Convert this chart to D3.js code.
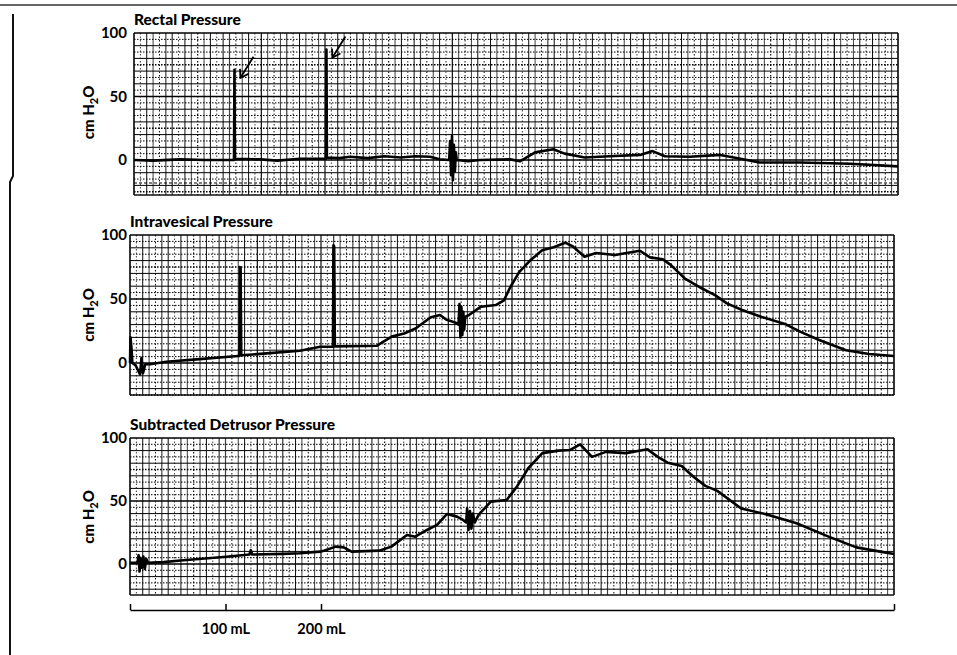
<!DOCTYPE html>
<html>
<head>
<meta charset="utf-8">
<script src="https://cdn.jsdelivr.net/npm/d3@7"></script>
<style>
  body { margin: 0; background: #fff; }
  svg { display: block; font-family: Lato, "Open Sans", sans-serif; }
  .title { font-weight: 900; font-size: 15.5px; }
  .ylab { font-weight: 900; font-size: 15px; }
  .tick-label { font-weight: 700; font-size: 15px; }
  .vol-axis text { font-family: Lato, sans-serif; font-weight: 700; font-size: 14.5px; }
</style>
</head>
<body>
<div id="chart"></div>
<script>
/* jshint esversion: 6 */

///////////////////////////////////////////////////////////////////////////////
//// Data (volume infused in mL, pressure in cm H2O) //////////////////////////
///////////////////////////////////////////////////////////////////////////////
const rectalVol = [0, 20, 48, 75, 104.7, 105.2, 105.7, 132, 150, 174, 201, 201.5, 202,
  215, 226, 245, 262, 279, 295, 310, 320, 330, 331, 332, 333, 334, 335, 336, 337, 338, 350, 362, 394, 404, 409, 420,
  439, 451, 472, 498, 530, 543, 556, 582, 614, 635, 655, 697, 750, 800];
const rectalP = [0, -0.5, 0.5, 0, 0, 71, 1, 0.5, -0.5, 1, 1, 87, 2,
  1.5, 2.5, 1.5, 3, 2, 3, 2.5, 0.5, 0, 15, -12, 19, -16, 12, -9, 6, 0, -1, 0, 0.5, -1, 1, 6,
  8.5, 5, 2, 3, 4, 7, 3, 2.5, 4, 1, -2, -2, -3, -5];

const vesicalVol = [0, 0.5, 1.5, 2.5, 6, 10.5, 12, 13.6, 16, 21, 38, 73, 113, 114.5, 115, 115.8, 116.5, 143,
  178, 199, 212.5, 213, 213.8, 214.5, 258.6, 274, 287, 299, 315, 324.6, 331, 341, 344, 345, 346, 347, 348,
  349, 350, 351, 355, 367.5, 383, 391.6, 398, 407.5, 419.6, 431.6, 443.6, 455.7, 463.8, 476, 488, 508,
  520, 534, 544.5, 558, 566.5, 581, 597, 612.6, 625, 641, 661.5, 685.8, 701.6, 721.7, 749.7, 773.8, 800];
const vesicalP = [0, 20, 12, 0, -2, -9, 4, -8, -1, -1, 1, 3, 5.5, 5.5, 75, 74, 6, 7.5,
  9.6, 12.7, 12.7, 92, 91, 13, 13.5, 20.6, 23, 27, 35.7, 37.5, 34, 31.5, 30, 46, 20, 44, 22,
  40, 26, 36, 37.5, 44, 45.3, 49, 59, 71, 80.5, 88, 90.4, 94, 91, 83, 86, 84.4,
  86, 87.7, 82.5, 81, 76.5, 66, 59, 53, 46.6, 41.4, 36, 30.5, 24.5, 18, 10, 7, 5.5];

const detrusorVol = [0, 8, 9, 10, 11, 12.5, 14, 15.5, 17, 19, 35, 55.7, 101, 125, 126.5, 128, 160, 178,
  199, 203, 215.5, 223.8, 232, 261, 273.7, 290, 298.7, 311, 321.5, 332, 342.4, 348.7, 352, 353, 354.5,
  356, 357.5, 359, 361, 365, 377.8, 394.4, 404.8, 417, 431.8, 448.5, 461, 471.4, 483.8, 498.4, 519.3,
  542, 552.6, 563, 577.6, 590, 602.5, 615, 640, 665, 698, 731.5, 760.6, 785.7, 800];
const detrusorP = [1, 1, 7, -6, 5, -3, 6, -4, 4, 1, 1.5, 3, 5.8, 7.5, 11, 7.5, 8, 8.5,
  9.8, 10.6, 13.8, 13.2, 9.8, 10.6, 13.8, 23, 21.7, 27, 31, 39.7, 37.6, 35, 33, 44, 27,
  42, 28, 40, 33, 39, 49.5, 50.8, 61, 76, 88, 90, 90.5, 95, 85, 89, 88,
  91, 85, 80.4, 77.8, 69.3, 62, 58, 44, 39.7, 32.3, 21.7, 13.2, 9.8, 8];

const panelTitles = ["Rectal Pressure", "Intravesical Pressure", "Subtracted Detrusor Pressure"];
const pressureTicks = [0, 50, 100];
const volumeTicks = [0, 100, 200, 800];
const volumeTickLabels = ["", "100 mL", "200 mL", ""];
const arrowSpikes = [[105.2, 71], [201.5, 87]]; // the two cough spikes marked on the rectal trace

///////////////////////////////////////////////////////////////////////////////
//// Layout ///////////////////////////////////////////////////////////////////
///////////////////////////////////////////////////////////////////////////////
const W = 957, H = 655;
const panels = [
  {title: panelTitles[0], vol: rectalVol, p: rectalP, left: 134, right: 898, top: 33, zero: 160, bottom: 195, strip: 183},
  {title: panelTitles[1], vol: vesicalVol, p: vesicalP, left: 130, right: 894, top: 235, zero: 363, bottom: 395},
  {title: panelTitles[2], vol: detrusorVol, p: detrusorP, left: 130, right: 894, top: 438, zero: 564, bottom: 595}
];

const svg = d3.select("#chart").append("svg")
  .attr("width", W)
  .attr("height", H);

// Page border (scanned page edges)
svg.append("line").attr("x1", 0).attr("y1", 5).attr("x2", W).attr("y2", 5)
  .style("stroke", "#333").style("stroke-width", 1.5);
svg.append("path")
  .attr("d", "M13,14 L13,176 L10,182 L10,655")
  .style("fill", "none").style("stroke", "#111").style("stroke-width", 2);

panels.forEach((pn, pi) => renderPanel(pn, pi));
renderVolumeAxis();

function renderPanel(pn, pi) {
  const x = d3.scaleLinear().domain([0, 800]).range([pn.left, pn.right]);
  const y = d3.scaleLinear().domain([0, 100]).range([pn.zero, pn.top]);
  const yMin = y.invert(pn.bottom);

  const g = svg.append("g").attr("class", "panel");

  /////////////////////////////////////////////////////////////////////////////
  // Chart paper grid
  const grid = g.append("g").attr("class", "grid");
  const hVals = d3.range(Math.ceil(yMin / 5) * 5, 101, 5);
  grid.selectAll(".h")
    .data(hVals)
    .enter().append("line")
      .attr("x1", pn.left).attr("x2", pn.right)
      .attr("y1", d => y(d)).attr("y2", d => y(d))
      .style("stroke", "#000")
      .style("stroke-width", d => d % 25 === 0 ? 1.3 : 1)
      .style("stroke-dasharray", d => d % 10 === 0 ? null : "1.5,1.5");

  const vVals = d3.range(0, 800.1, 100 / 15);
  grid.selectAll(".v")
    .data(vVals)
    .enter().append("line")
      .attr("x1", d => x(d)).attr("x2", d => x(d))
      .attr("y1", pn.top).attr("y2", pn.bottom)
      .style("stroke", "#000")
      .style("stroke-width", (d, i) => i % 5 === 0 ? 1.2 : 1)
      .style("stroke-dasharray", (d, i) => i % 3 === 1 ? "1.5,2" : null)
      .style("opacity", (d, i) => i % 2 ? 0.75 : 0.95);

  if (pn.strip) {
    grid.append("line")
      .attr("x1", pn.left).attr("x2", pn.right).attr("y1", pn.strip).attr("y2", pn.strip)
      .style("stroke", "#000").style("stroke-width", 1).style("stroke-dasharray", "3,2");
  }

  // frame edges
  grid.append("line")
    .attr("x1", pn.left).attr("x2", pn.left).attr("y1", pn.top).attr("y2", pn.bottom)
    .style("stroke", "#111").style("stroke-width", 1.2);
  grid.append("line")
    .attr("x1", pn.right).attr("x2", pn.right).attr("y1", pn.top).attr("y2", pn.bottom)
    .style("stroke", "#111").style("stroke-width", 1.2);
  grid.append("line")
    .attr("x1", pn.left).attr("x2", pn.right).attr("y1", pn.bottom).attr("y2", pn.bottom)
    .style("stroke", "#111").style("stroke-width", 1.4);

  /////////////////////////////////////////////////////////////////////////////
  // Title and y axis labels
  g.append("text")
    .attr("class", "title")
    .attr("x", pn.left)
    .attr("y", pn.top - 8)
    .text(pn.title);

  g.selectAll(".tick-label")
    .data(pressureTicks)
    .enter().append("text")
      .attr("class", "tick-label")
      .attr("x", 127)
      .attr("y", d => y(d))
      .attr("dy", "0.35em")
      .style("text-anchor", "end")
      .text(d => d);

  const lab = g.append("text")
    .attr("class", "ylab")
    .attr("transform", `translate(94, ${y(50) + 16}) rotate(-90)`)
    .style("text-anchor", "middle");
  lab.append("tspan").text("cm H");
  lab.append("tspan").attr("dy", 4).style("font-size", "11px").text("2");
  lab.append("tspan").attr("dy", -4).text("O");

  /////////////////////////////////////////////////////////////////////////////
  // Pressure trace
  const pts = pn.vol.map((v, i) => [v, pn.p[i]]);
  const line = d3.line().x(d => x(d[0])).y(d => y(d[1]));
  g.append("path")
    .datum(pts)
    .attr("d", line)
    .style("fill", "none")
    .style("stroke", "#000")
    .style("stroke-width", 2.6)
    .style("stroke-linejoin", "round");

  // arrows pointing at cough spikes
  if (pi === 0) {
    arrowSpikes.forEach(s => {
      const tx = x(s[0]) + 6, ty = y(s[1]) + 8;
      const fx = tx + 13, fy = ty - 21;
      g.append("line")
        .attr("x1", fx).attr("y1", fy).attr("x2", tx).attr("y2", ty)
        .style("stroke", "#000").style("stroke-width", 1.8);
      g.append("path")
        .attr("d", `M${tx - 0.5},${ty - 9} L${tx},${ty} L${tx + 8},${ty - 4}`)
        .style("fill", "none").style("stroke", "#000").style("stroke-width", 1.8);
    });
  }
}

function renderVolumeAxis() {
  const pn = panels[2];
  const x = d3.scaleLinear().domain([0, 800]).range([pn.left, pn.right]);
  const ax = svg.append("g")
    .attr("class", "vol-axis")
    .attr("transform", "translate(0, 610)")
    .call(d3.axisBottom(x)
      .tickValues(volumeTicks)
      .tickSizeInner(-6)
      .tickSizeOuter(0)
      .tickPadding(14)
      .tickFormat((d, i) => volumeTickLabels[i]));
  ax.select(".domain").style("stroke", "#000").style("stroke-width", 1.5);
  ax.selectAll(".tick line").style("stroke", "#000").style("stroke-width", 1.5);
  ax.selectAll(".tick text").style("fill", "#000");
}
</script>
</body>
</html>
